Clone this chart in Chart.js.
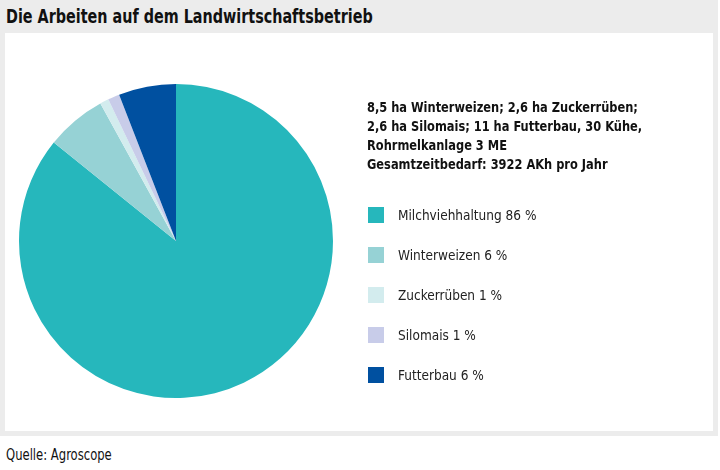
<!DOCTYPE html>
<html>
<head>
<meta charset="utf-8">
<script src="https://cdn.jsdelivr.net/npm/chart.js@4"></script>
<style>
  body { margin: 0; width: 720px; height: 470px; background: #fff; font-family: "DejaVu Sans Condensed", sans-serif; position: relative; overflow: hidden; }
  #frame { position: absolute; left: 0; top: 0; width: 718px; height: 436px; background: #ececec; }
  #titel { position: absolute; left: 6px; top: 5px; font-size: 19px; font-weight: bold; color: #111; transform: scaleX(0.84); transform-origin: left top; white-space: nowrap; }
  #panel { position: absolute; left: 5px; top: 33px; width: 708px; height: 398px; background: #fff; }
  #chartWrap { position: absolute; left: 0; top: 0; width: 708px; height: 398px; }
  #info { position: absolute; left: 362px; top: 65px; font-size: 13.5px; font-weight: bold; line-height: 19px; color: #111; transform: scaleX(0.94); transform-origin: left top; white-space: nowrap; }
  #legende { position: absolute; left: 363px; top: 174px; font-size: 13.5px; color: #222; }
  .eintrag { height: 40px; display: flex; align-items: flex-start; }
  .box { width: 16px; height: 16px; margin-right: 14px; margin-top: 0px; }
  #quelle { position: absolute; left: 6px; top: 446px; font-size: 15px; color: #111; transform: scaleX(0.86); transform-origin: left top; white-space: nowrap; }
</style>
</head>
<body>
<div id="frame">
  <div id="titel">Die Arbeiten auf dem Landwirtschaftsbetrieb</div>
  <div id="panel">
    <div id="chartWrap"><canvas id="chartArbeiten"></canvas></div>
    <div id="info">8,5 ha Winterweizen; 2,6 ha Zuckerrüben;<br>2,6 ha Silomais; 11 ha Futterbau, 30 Kühe,<br>Rohrmelkanlage 3 ME<br>Gesamtzeitbedarf: 3922 AKh pro Jahr</div>
    <div id="legende"></div>
  </div>
</div>
<div id="quelle">Quelle: Agroscope</div>

<script>
const kategorien = ['Milchviehhaltung', 'Winterweizen', 'Zuckerrüben', 'Silomais', 'Futterbau'];
const anteile = [85.8, 6.2, 0.9, 1.2, 5.9];
const prozentLabels = ['86 %', '6 %', '1 %', '1 %', '6 %'];
const farben = ['#26b7bc', '#96d2d5', '#d3ecee', '#c8cce9', '#0050a0'];

const canvasArbeiten = document.getElementById('chartArbeiten');
const contextArbeiten = canvasArbeiten.getContext('2d');

const chartArbeiten = new Chart(contextArbeiten, {
    type: 'pie',
    data: {
        labels: kategorien,
        datasets: [
            {
                data: anteile,
                backgroundColor: farben,
                borderWidth: 0
            }
        ]
    },
    options: {
        responsive: true,
        maintainAspectRatio: false,
        animation: false,
        layout: {
            padding: { left: 14, top: 51, right: 380, bottom: 33 }
        },
        plugins: {
            legend: { display: false },
            tooltip: { enabled: false }
        }
    }
});

// Legende neben dem Kreis
const legende = document.getElementById('legende');
kategorien.forEach((kat, i) => {
    const eintrag = document.createElement('div');
    eintrag.className = 'eintrag';
    eintrag.innerHTML = `<div class="box" style="background:${farben[i]}"></div><span>${kat} ${prozentLabels[i]}</span>`;
    legende.appendChild(eintrag);
});
</script>
</body>
</html>
